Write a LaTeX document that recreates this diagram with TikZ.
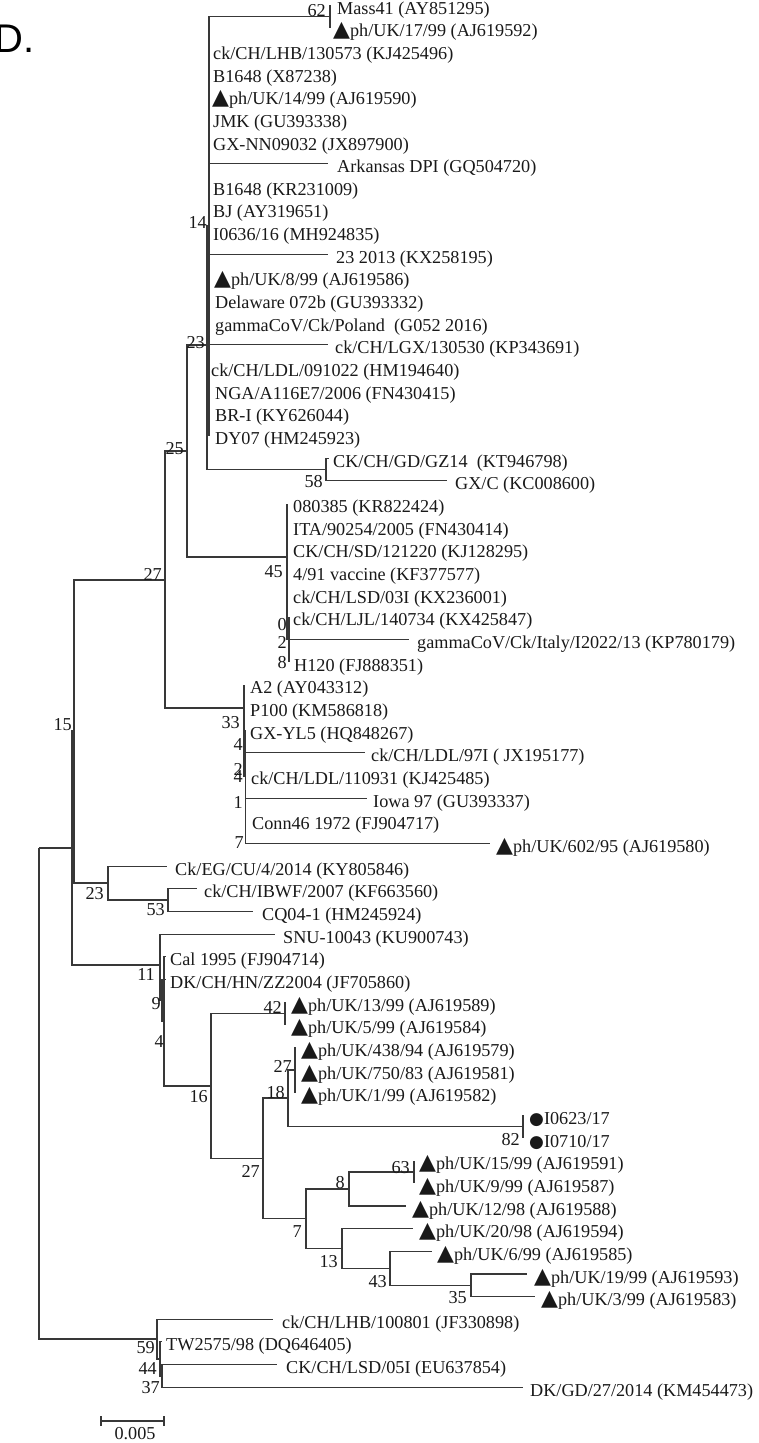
\documentclass[tikz,border=0pt]{standalone}
\usepackage{fontspec}
\setmainfont{Liberation Serif}
\newfontfamily\panelfont{Liberation Sans}
\newfontfamily\symf{DejaVu Sans}
\newcommand\tri{{\symf\fontsize{22}{22}\selectfont ▲}}
\newcommand\blk{{\symf\fontsize{17}{18}\selectfont ●}}
\begin{document}
\begin{tikzpicture}[x=1pt,y=-1pt,
  br/.style={draw=black!78, line width=1.1pt},
  lf/.style={anchor=base west, inner sep=0pt, font=\fontsize{18.2}{20}\selectfont, text=black!90},
  bs/.style={anchor=base east, inner sep=0pt, font=\fontsize{18.2}{20}\selectfont, text=black!90}]
\useasboundingbox (0,0) rectangle (759,1443);
\node[anchor=base west, inner sep=0pt, font=\panelfont\fontsize{40}{44}\selectfont] (panel) at (-6,52) {D.};
% internal nodes
\coordinate (R) at (39,848);
\coordinate (N15) at (72,848);
\coordinate (Nx) at (74,731);
\coordinate (N27) at (165,580);
\coordinate (N25) at (187,451);
\coordinate (N23) at (207,345);
\coordinate (N14) at (209,226);
\coordinate (N62) at (330,16.4);
\coordinate (N58) at (326,469.5);
\coordinate (N45) at (287,557);
\coordinate (N0) at (289,639.5);
\coordinate (N33) at (244,708);
\coordinate (N4a) at (245.5,776);
\coordinate (N23b) at (108,883);
\coordinate (N53) at (168,900);
\coordinate (N11) at (160,965);
\coordinate (N9) at (162,1000);
\coordinate (N4) at (164,1021);
\coordinate (N16) at (211,1086);
\coordinate (N42) at (285,1013.3);
\coordinate (N27b) at (263,1158.3);
\coordinate (N18) at (288,1098);
\coordinate (N27c) at (295,1070);
\coordinate (N82) at (523,1126.7);
\coordinate (N7) at (306,1218.7);
\coordinate (N8) at (349,1189);
\coordinate (N63) at (414,1172);
\coordinate (N13) at (342,1248.5);
\coordinate (N43) at (390,1268.3);
\coordinate (N35) at (471,1285.3);
\coordinate (NB) at (157,1339);
\coordinate (N44) at (160,1359);
\coordinate (N37) at (162,1376);
% leaf ends
\coordinate (L1) at (330,5.0);
\coordinate (L2) at (330,27.7);
\coordinate (L3) at (209,50.3);
\coordinate (L4) at (209,73.0);
\coordinate (L5) at (209,95.6);
\coordinate (L6) at (209,118.3);
\coordinate (L7) at (209,141.0);
\coordinate (L8) at (328,163.6);
\coordinate (L9) at (209,186.3);
\coordinate (L10) at (209,208.9);
\coordinate (L11) at (209,231.6);
\coordinate (L12) at (328,254.3);
\coordinate (L13) at (209,276.9);
\coordinate (L14) at (209,299.6);
\coordinate (L15) at (209,322.2);
\coordinate (L16) at (328,344.9);
\coordinate (L17) at (209,367.6);
\coordinate (L18) at (209,390.2);
\coordinate (L19) at (209,412.9);
\coordinate (L20) at (209,435.5);
\coordinate (L21) at (329,458.2);
\coordinate (L22) at (447,480.9);
\coordinate (L23) at (287,503.5);
\coordinate (L24) at (287,526.2);
\coordinate (L25) at (287,548.8);
\coordinate (L26) at (287,571.5);
\coordinate (L27) at (287,594.2);
\coordinate (L28) at (289,616.8);
\coordinate (L29) at (409,639.5);
\coordinate (L30) at (289,662.1);
\coordinate (L31) at (244,684.8);
\coordinate (L32) at (244,707.5);
\coordinate (L33) at (245.5,730.1);
\coordinate (L34) at (365,752.8);
\coordinate (L35) at (245.5,775.4);
\coordinate (L36) at (367,798.1);
\coordinate (L37) at (245.5,820.8);
\coordinate (L38) at (490,843.4);
\coordinate (L39) at (167,866.1);
\coordinate (L40) at (197,888.7);
\coordinate (L41) at (253,911.4);
\coordinate (L42) at (275,934.1);
\coordinate (L43) at (166,956.7);
\coordinate (L44) at (166,979.4);
\coordinate (L45) at (285,1002.0);
\coordinate (L46) at (285,1024.7);
\coordinate (L47) at (295,1047.4);
\coordinate (L48) at (295,1070.0);
\coordinate (L49) at (295,1092.7);
\coordinate (L50) at (523,1115.3);
\coordinate (L51) at (523,1138.0);
\coordinate (L52) at (414,1160.7);
\coordinate (L53) at (414,1183.3);
\coordinate (L54) at (406,1206.0);
\coordinate (L55) at (413,1228.6);
\coordinate (L56) at (432,1251.3);
\coordinate (L57) at (527,1274.0);
\coordinate (L58) at (535,1296.6);
\coordinate (L59) at (273,1319.3);
\coordinate (L60) at (162,1341.9);
\coordinate (L61) at (277,1364.6);
\coordinate (L62) at (523,1387.3);
% branches
\draw[br] (R) |- (N15); \draw[br] (R) |- (NB);
\draw[br] (N15) |- (Nx); \draw[br] (N15) |- (N11);
\draw[br] (Nx) |- (N27); \draw[br] (Nx) |- (N23b);
\draw[br] (N27) |- (N25); \draw[br] (N27) |- (N33);
\draw[br] (N25) |- (N23); \draw[br] (N25) |- (N45);
\draw[br] (N23) |- (N14); \draw[br] (N23) |- (N58);
\draw[br] (N14) |- (N62);
\foreach \l in {L3,L4,L5,L6,L7,L8,L9,L10,L11,L12,L13,L14,L15,L16,L17,L18,L19,L20}
  \draw[br] (N14) |- (\l);
\draw[br] (N62) |- (L1); \draw[br] (N62) |- (L2);
\draw[br] (N58) |- (L21); \draw[br] (N58) |- (L22);
\foreach \l in {L23,L24,L25,L26,L27} \draw[br] (N45) |- (\l);
\draw[br] (N45) |- (N0);
\foreach \l in {L28,L29,L30} \draw[br] (N0) |- (\l);
\draw[br] (N33) |- (L31); \draw[br] (N33) |- (L32); \draw[br] (N33) |- (N4a);
\foreach \l in {L33,L34,L35,L36,L37,L38} \draw[br] (N4a) |- (\l);
\draw[br] (N23b) |- (L39); \draw[br] (N23b) |- (N53);
\draw[br] (N53) |- (L40); \draw[br] (N53) |- (L41);
\draw[br] (N11) |- (L42); \draw[br] (N11) |- (N9);
\draw[br] (N9) |- (L44); \draw[br] (N9) |- (N4);
\draw[br] (N4) |- (L43); \draw[br] (N4) |- (N16);
\draw[br] (N16) |- (N42); \draw[br] (N16) |- (N27b);
\draw[br] (N42) |- (L45); \draw[br] (N42) |- (L46);
\draw[br] (N27b) |- (N18); \draw[br] (N27b) |- (N7);
\draw[br] (N18) |- (N27c); \draw[br] (N18) |- (N82);
\foreach \l in {L47,L48,L49} \draw[br] (N27c) |- (\l);
\draw[br] (N82) |- (L50); \draw[br] (N82) |- (L51);
\draw[br] (N7) |- (N8); \draw[br] (N7) |- (N13);
\draw[br] (N8) |- (N63); \draw[br] (N8) |- (L54);
\draw[br] (N63) |- (L52); \draw[br] (N63) |- (L53);
\draw[br] (N13) |- (L55); \draw[br] (N13) |- (N43);
\draw[br] (N43) |- (L56); \draw[br] (N43) |- (N35);
\draw[br] (N35) |- (L57); \draw[br] (N35) |- (L58);
\draw[br] (NB) |- (L59); \draw[br] (NB) |- (N44);
\draw[br] (N44) |- (L60); \draw[br] (N44) |- (N37);
\draw[br] (N37) |- (L61); \draw[br] (N37) |- (L62);
% leaf labels
\node[lf] (T1) at (337,14.0) {Mass41 (AY851295)};
\node[lf] (T2) at (333,36.7) {\tri ph/UK/17/99 (AJ619592)};
\node[lf] (T3) at (213,59.3) {ck/CH/LHB/130573 (KJ425496)};
\node[lf] (T4) at (213,82.0) {B1648 (X87238)};
\node[lf] (T5) at (212,104.6) {\tri ph/UK/14/99 (AJ619590)};
\node[lf] (T6) at (213,127.3) {JMK (GU393338)};
\node[lf] (T7) at (213,150.0) {GX-NN09032 (JX897900)};
\node[lf] (T8) at (337,172.6) {Arkansas DPI (GQ504720)};
\node[lf] (T9) at (213,195.3) {B1648 (KR231009)};
\node[lf] (T10) at (213,217.9) {BJ (AY319651)};
\node[lf] (T11) at (213,240.6) {I0636/16 (MH924835)};
\node[lf] (T12) at (336,263.3) {23 2013 (KX258195)};
\node[lf] (T13) at (214,285.9) {\tri ph/UK/8/99 (AJ619586)};
\node[lf] (T14) at (215,308.6) {Delaware 072b (GU393332)};
\node[lf] (T15) at (215,331.2) {gammaCoV/Ck/Poland\ \ (G052 2016)};
\node[lf] (T16) at (335,353.9) {ck/CH/LGX/130530 (KP343691)};
\node[lf] (T17) at (211,376.6) {ck/CH/LDL/091022 (HM194640)};
\node[lf] (T18) at (215,399.2) {NGA/A116E7/2006 (FN430415)};
\node[lf] (T19) at (215,421.9) {BR-I (KY626044)};
\node[lf] (T20) at (215,444.5) {DY07 (HM245923)};
\node[lf] (T21) at (333,467.2) {CK/CH/GD/GZ14\ \ (KT946798)};
\node[lf] (T22) at (455,489.9) {GX/C (KC008600)};
\node[lf] (T23) at (293,512.5) {080385 (KR822424)};
\node[lf] (T24) at (293,535.2) {ITA/90254/2005 (FN430414)};
\node[lf] (T25) at (293,557.8) {CK/CH/SD/121220 (KJ128295)};
\node[lf] (T26) at (293,580.5) {4/91 vaccine (KF377577)};
\node[lf] (T27) at (293,603.2) {ck/CH/LSD/03I (KX236001)};
\node[lf] (T28) at (293,625.8) {ck/CH/LJL/140734 (KX425847)};
\node[lf] (T29) at (417,648.5) {gammaCoV/Ck/Italy/I2022/13 (KP780179)};
\node[lf] (T30) at (294,671.1) {H120 (FJ888351)};
\node[lf] (T31) at (250,693.8) {A2 (AY043312)};
\node[lf] (T32) at (250,716.5) {P100 (KM586818)};
\node[lf] (T33) at (250,739.1) {GX-YL5 (HQ848267)};
\node[lf] (T34) at (371,761.8) {ck/CH/LDL/97I ( JX195177)};
\node[lf] (T35) at (251,784.4) {ck/CH/LDL/110931 (KJ425485)};
\node[lf] (T36) at (373,807.1) {Iowa 97 (GU393337)};
\node[lf] (T37) at (252,829.8) {Conn46 1972 (FJ904717)};
\node[lf] (T38) at (496,852.4) {\tri ph/UK/602/95 (AJ619580)};
\node[lf] (T39) at (175,875.1) {Ck/EG/CU/4/2014 (KY805846)};
\node[lf] (T40) at (204,897.7) {ck/CH/IBWF/2007 (KF663560)};
\node[lf] (T41) at (262,920.4) {CQ04-1 (HM245924)};
\node[lf] (T42) at (283,943.1) {SNU-10043 (KU900743)};
\node[lf] (T43) at (170,965.7) {Cal 1995 (FJ904714)};
\node[lf] (T44) at (170,988.4) {DK/CH/HN/ZZ2004 (JF705860)};
\node[lf] (T45) at (291,1011.0) {\tri ph/UK/13/99 (AJ619589)};
\node[lf] (T46) at (291,1033.7) {\tri ph/UK/5/99 (AJ619584)};
\node[lf] (T47) at (301,1056.4) {\tri ph/UK/438/94 (AJ619579)};
\node[lf] (T48) at (301,1079.0) {\tri ph/UK/750/83 (AJ619581)};
\node[lf] (T49) at (301,1101.7) {\tri ph/UK/1/99 (AJ619582)};
\node[lf] (T50) at (529,1124.3) {\blk I0623/17};
\node[lf] (T51) at (529,1147.0) {\blk I0710/17};
\node[lf] (T52) at (419,1169.7) {\tri ph/UK/15/99 (AJ619591)};
\node[lf] (T53) at (419,1192.3) {\tri ph/UK/9/99 (AJ619587)};
\node[lf] (T54) at (412,1215.0) {\tri ph/UK/12/98 (AJ619588)};
\node[lf] (T55) at (419,1237.6) {\tri ph/UK/20/98 (AJ619594)};
\node[lf] (T56) at (437,1260.3) {\tri ph/UK/6/99 (AJ619585)};
\node[lf] (T57) at (534,1283.0) {\tri ph/UK/19/99 (AJ619593)};
\node[lf] (T58) at (541,1305.6) {\tri ph/UK/3/99 (AJ619583)};
\node[lf] (T59) at (282,1328.3) {ck/CH/LHB/100801 (JF330898)};
\node[lf] (T60) at (166,1350.9) {TW2575/98 (DQ646405)};
\node[lf] (T61) at (286,1373.6) {CK/CH/LSD/05I (EU637854)};
\node[lf] (T62) at (530,1396.3) {DK/GD/27/2014 (KM454473)};
% bootstrap values
\node[bs] (b62) at (326,16) {62};
\node[bs] (b14) at (207,228) {14};
\node[bs] (b23a) at (205,348) {23};
\node[bs] (b25) at (184,454) {25};
\node[bs] (b58) at (323,487) {58};
\node[bs] (b27a) at (162,580) {27};
\node[bs] (b45) at (283,577) {45};
\node[bs] (b0) at (287,630) {0};
\node[bs] (b2a) at (287,648) {2};
\node[bs] (b8a) at (287,668) {8};
\node[bs] (b33) at (240,728) {33};
\node[bs] (b4a) at (243,750) {4};
\node[bs] (b2b) at (243,775) {2};
\node[bs] (b4b) at (243,782) {4};
\node[bs] (b1) at (243,808) {1};
\node[bs] (b7a) at (244,848) {7};
\node[bs] (b15) at (72,730) {15};
\node[bs] (b23b) at (104,899) {23};
\node[bs] (b53) at (165,915) {53};
\node[bs] (b11) at (155,980) {11};
\node[bs] (b9) at (161,1009) {9};
\node[bs] (b4c) at (164,1047) {4};
\node[bs] (b16) at (208,1102) {16};
\node[bs] (b42) at (282,1013) {42};
\node[bs] (b27c) at (292,1072) {27};
\node[bs] (b18) at (285,1098) {18};
\node[bs] (b27b) at (260,1177) {27};
\node[bs] (b82) at (520,1145) {82};
\node[bs] (b63) at (410,1173) {63};
\node[bs] (b8b) at (345,1188) {8};
\node[bs] (b7b) at (302,1237) {7};
\node[bs] (b13) at (338,1267) {13};
\node[bs] (b43) at (387,1287) {43};
\node[bs] (b35) at (467,1303) {35};
\node[bs] (b59) at (155,1353) {59};
\node[bs] (b44) at (157,1374) {44};
\node[bs] (b37) at (160,1393) {37};
% scale bar
\coordinate (S1) at (101,1421);
\coordinate (S2) at (164,1421);
\draw[br] (S1) -- (S2);
\draw[br] ([yshift=-5pt]S1) -- ([yshift=5pt]S1);
\draw[br] ([yshift=-5pt]S2) -- ([yshift=5pt]S2);
\node[anchor=base, inner sep=0pt, font=\fontsize{18.2}{20}\selectfont, text=black!90] (sl) at (135,1439) {0.005};
\end{tikzpicture}
\end{document}
